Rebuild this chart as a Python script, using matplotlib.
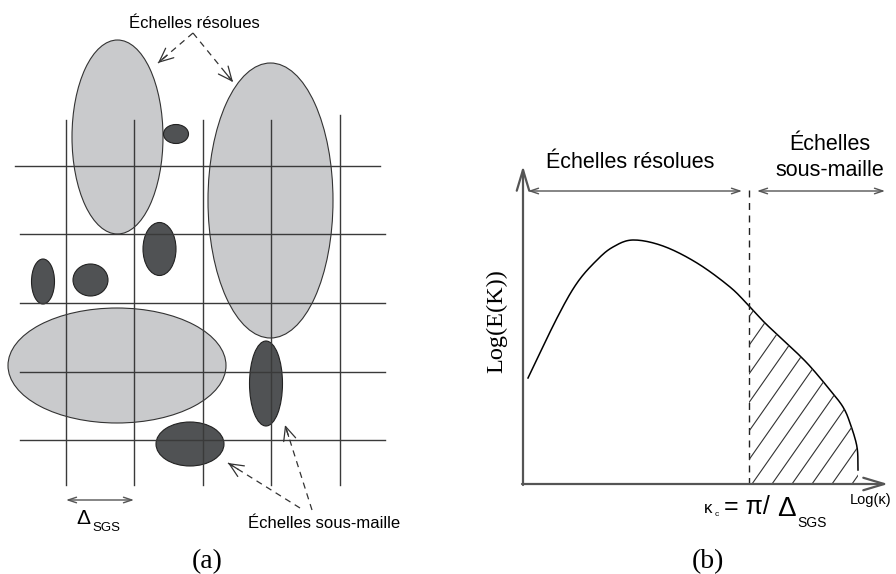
import numpy as np
import matplotlib
matplotlib.use("Agg")
import matplotlib.pyplot as plt
from matplotlib.patches import Ellipse, Polygon

SANS = "Liberation Sans"
SERIF = "Liberation Serif"

# panel (a): mesh lines and eddies (pixel units)
grid_x = [66, 134, 203, 271, 340]
grid_y = [166, 234, 303, 372, 440]

big_cx = [117.5, 270.5, 117]
big_cy = [137, 200.5, 365.5]
big_w = [91, 125, 218]
big_h = [194, 275, 115]

small_cx = [176, 159.5, 43, 90.5, 266, 190]
small_cy = [134, 249, 281.5, 280, 383.5, 444]
small_w = [25, 33, 23, 35, 33, 68]
small_h = [19, 53, 45, 32, 85, 44]

# panel (b): energy spectrum sketch
spec_k = [528, 557, 577, 597, 613, 633, 663, 697, 730, 749, 765,
          780, 807, 830, 843, 850, 857, 858]
spec_e = [378, 318, 283, 260, 247, 240, 246, 263, 287, 306, 323,
          337, 363, 390, 407, 423, 447, 470]
k_cut = 749
k_axis = 523
e_axis = 484


def smooth(xs, ys, n=12):
    # Catmull-Rom through the read points, only for drawing
    p = np.column_stack([xs, ys]).astype(float)
    p = np.vstack([2 * p[0] - p[1], p, 2 * p[-1] - p[-2]])
    out = []
    for i in range(1, len(p) - 2):
        p0, p1, p2, p3 = p[i - 1], p[i], p[i + 1], p[i + 2]
        for t in np.linspace(0, 1, n, endpoint=False):
            out.append(0.5 * (2 * p1 + (-p0 + p2) * t
                              + (2 * p0 - 5 * p1 + 4 * p2 - p3) * t ** 2
                              + (-p0 + 3 * p1 - 3 * p2 + p3) * t ** 3))
    out.append(p[-2])
    out = np.array(out)
    return out[:, 0], out[:, 1]


def dashed_arrow(ax, start, tip):
    ax.plot([start[0], tip[0]], [start[1], tip[1]], color="#333333",
            lw=0.9, ls=(0, (5, 4)))
    d = np.array(tip) - np.array(start)
    d = d / np.hypot(*d)
    ax.annotate("", xy=tip, xytext=(tip[0] - d[0] * 12, tip[1] - d[1] * 12),
                arrowprops=dict(arrowstyle="->,head_length=1.0,head_width=0.45",
                                color="#333333", lw=0.9, shrinkA=0, shrinkB=0))


def double_arrow(ax, x0, x1, y):
    ax.annotate("", xy=(x1, y), xytext=(x0, y),
                arrowprops=dict(arrowstyle="<->,head_length=0.6,head_width=0.2",
                                color="#555555", lw=1.0, shrinkA=0, shrinkB=0))


fig = plt.figure(figsize=(8.96, 5.74), dpi=100)
ax = fig.add_axes([0, 0, 1, 1])
ax.set_xlim(0, 896)
ax.set_ylim(574, 0)
ax.axis("off")

# ---- panel (a) ----
for i in range(len(big_cx)):
    ax.add_patch(Ellipse((big_cx[i], big_cy[i]), big_w[i], big_h[i],
                         facecolor="#c9cacc", edgecolor="#333333", lw=0.8, zorder=1))
for i in range(len(small_cx)):
    ax.add_patch(Ellipse((small_cx[i], small_cy[i]), small_w[i], small_h[i],
                         facecolor="#505254", edgecolor="#222222", lw=0.8, zorder=1))

for i, x in enumerate(grid_x):
    top = 115 if i == len(grid_x) - 1 else 120
    ax.plot([x, x], [top, 485], color="#3a3a3a", lw=1.0, zorder=2)
for i, y in enumerate(grid_y):
    x0 = 15 if i == 0 else 20
    x1 = 380 if i == 0 else 385
    ax.plot([x0, x1], [y, y], color="#3a3a3a", lw=1.0, zorder=2)

ax.text(194, 23, "Échelles résolues", family=SANS, fontsize=12,
        ha="center", va="center")
dashed_arrow(ax, (193, 33), (158, 63))
dashed_arrow(ax, (193, 33), (233, 82))

ax.text(324, 523, "Échelles sous-maille", family=SANS, fontsize=12,
        ha="center", va="center")
dashed_arrow(ax, (300, 508), (228, 463))
dashed_arrow(ax, (312, 510), (285, 425))

double_arrow(ax, grid_x[0], grid_x[1], 500)
ax.text(76, 524, "Δ", family=SANS, fontsize=15, ha="left", va="baseline")
ax.text(92, 531, "SGS", family=SANS, fontsize=9.5, ha="left", va="baseline")

ax.text(207, 562, "(a)", family=SERIF, fontsize=20, ha="center", va="center")

# ---- panel (b) ----
ax.annotate("", xy=(k_axis, 166), xytext=(k_axis, e_axis + 1),
            arrowprops=dict(arrowstyle="->,head_length=1.5,head_width=0.45",
                            color="#555555", lw=1.6, shrinkA=0, shrinkB=0))
ax.annotate("", xy=(888, e_axis), xytext=(k_axis - 1, e_axis),
            arrowprops=dict(arrowstyle="->,head_length=1.5,head_width=0.45",
                            color="#555555", lw=1.6, shrinkA=0, shrinkB=0))

cx, cy = smooth(spec_k, spec_e)
ax.plot(cx, cy, color="black", lw=1.1)
ax.plot([k_cut, k_cut], [190, e_axis], color="#222222", lw=1.0, ls=(0, (5, 4)))

# hatched sub-grid part of the spectrum
mask = cx >= k_cut
verts = [(k_cut, e_axis), (k_cut, np.interp(k_cut, cx[:np.argmax(cx)], cy[:np.argmax(cx)]))]
verts += list(zip(cx[mask], cy[mask])) + [(cx[-1], e_axis)]
region = Polygon(verts, closed=True, fill=False, lw=0)
ax.add_patch(region)
for x0 in np.arange(752 - 20 * 8, 860, 20):
    ln, = ax.plot([x0, x0 + 0.7 * 300], [e_axis, e_axis - 300],
                  color="#333333", lw=0.8)
    ln.set_clip_path(region)

double_arrow(ax, 528, 742, 191)
double_arrow(ax, 757, 885, 191)
ax.text(630, 163, "Échelles résolues", family=SANS, fontsize=15.5,
        ha="center", va="center")
ax.text(830, 145, "Échelles", family=SANS, fontsize=15.5, ha="center", va="center")
ax.text(830, 171, "sous-maille", family=SANS, fontsize=15.5, ha="center", va="center")

ax.text(497, 321, "Log(E(K))", family=SERIF, fontsize=17.5, rotation=90,
        ha="center", va="center")
ax.text(871, 500, "Log(κ)", family=SANS, fontsize=10.5, ha="center", va="center")

ax.text(704, 513, "κ", family=SANS, fontsize=12, ha="left", va="baseline")
ax.text(715, 516, "c", family=SANS, fontsize=6, ha="left", va="baseline")
ax.text(724, 514, "= π/", family=SANS, fontsize=18, ha="left", va="baseline")
ax.text(777, 516, "Δ", family=SANS, fontsize=20, ha="left", va="baseline")
ax.text(797, 527, "SGS", family=SANS, fontsize=10, ha="left", va="baseline")

ax.text(708, 562, "(b)", family=SERIF, fontsize=20, ha="center", va="center")

fig.savefig("out.png", dpi=100)
